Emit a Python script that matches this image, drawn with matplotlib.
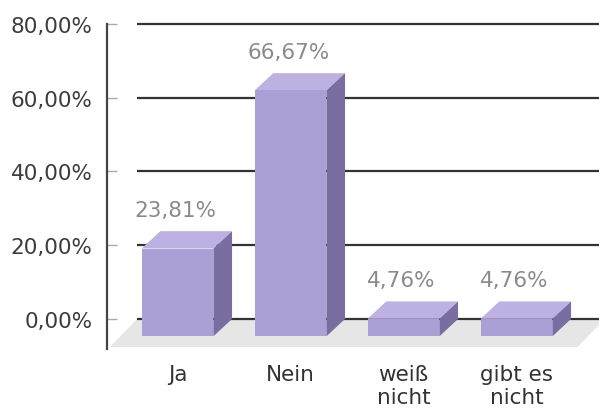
import numpy as np
import matplotlib
matplotlib.use("Agg")
import matplotlib.pyplot as plt
from matplotlib.patches import Polygon

categories = ["Ja", "Nein", "weiß\nnicht", "gibt es\nnicht"]
values = [23.81, 66.67, 4.76, 4.76]
value_labels = ["23,81%", "66,67%", "4,76%", "4,76%"]
yticks = [0, 20, 40, 60, 80]
ytick_labels = ["0,00%", "20,00%", "40,00%", "60,00%", "80,00%"]

front = "#ab9fd6"
top = "#bcb1e2"
side = "#7a6da2"
floor_col = "#e6e6e6"

# 3d look: depth offsets in data units
bar_w = 0.635
bar_dx, bar_dy = 0.165, 4.7
floor_dx, floor_dy = 0.24, 7.6
wall_left, wall_right = -0.358, 3.78

fig = plt.figure(figsize=(5.99, 4.10), dpi=100)
ax = fig.add_axes([0, 0, 1, 1])
ax.set_xlim(-1.571, 3.730)
ax.set_ylim(-24.41, 86.78)

x = np.arange(len(categories))

# floor
ax.add_patch(Polygon([(wall_left - floor_dx, -floor_dy), (wall_left, 0),
                      (wall_right, 0), (wall_right - floor_dx, -floor_dy)],
                     closed=True, fc=floor_col, ec="none", zorder=1))

# gridlines on the back wall
ax.hlines(yticks, wall_left, wall_right, colors="#333333", lw=1.6, zorder=2)

# bars: front face, top and side
ax.bar(x, values, width=bar_w, bottom=-bar_dy, color=front, zorder=5)
for xi, v in zip(x, values):
    l, r = xi - bar_w / 2, xi + bar_w / 2
    ax.add_patch(Polygon([(l, v - bar_dy), (r, v - bar_dy), (r + bar_dx, v), (l + bar_dx, v)],
                         closed=True, fc=top, ec="none", zorder=4))
    ax.add_patch(Polygon([(r, -bar_dy), (r + bar_dx, 0), (r + bar_dx, v), (r, v - bar_dy)],
                         closed=True, fc=side, ec="none", zorder=4))

for xi, v, lab in zip(x, values, value_labels):
    ax.text(xi - 0.02, v + 5.7, lab, ha="center", va="center",
            fontsize=15.5, color="#8a8a8a", family="DejaVu Sans")

# value axis
for s in ["top", "right", "bottom"]:
    ax.spines[s].set_visible(False)
ax.spines["left"].set_position(("data", -0.628))
ax.spines["left"].set_bounds(-8.1, 80)
ax.spines["left"].set_color("#444444")
ax.spines["left"].set_linewidth(1.6)
ax.set_yticks(yticks)
ax.set_yticklabels(ytick_labels)
ax.tick_params(axis="y", direction="in", length=7, width=1, color="#aaaaaa",
               pad=10, labelsize=15.5, labelcolor="#3c3c3c")

# category labels
ax.spines["bottom"].set_position(("data", -floor_dy))
ax.set_xticks(x)
ax.set_xticklabels(categories)
ax.tick_params(axis="x", length=0, pad=12, labelsize=15.5, labelcolor="#333333")
for t in ax.get_xticklabels() + ax.get_yticklabels():
    t.set_family("DejaVu Sans")
for t in ax.get_xticklabels():
    t.set_linespacing(1.2)

fig.savefig("out.png", dpi=100)
